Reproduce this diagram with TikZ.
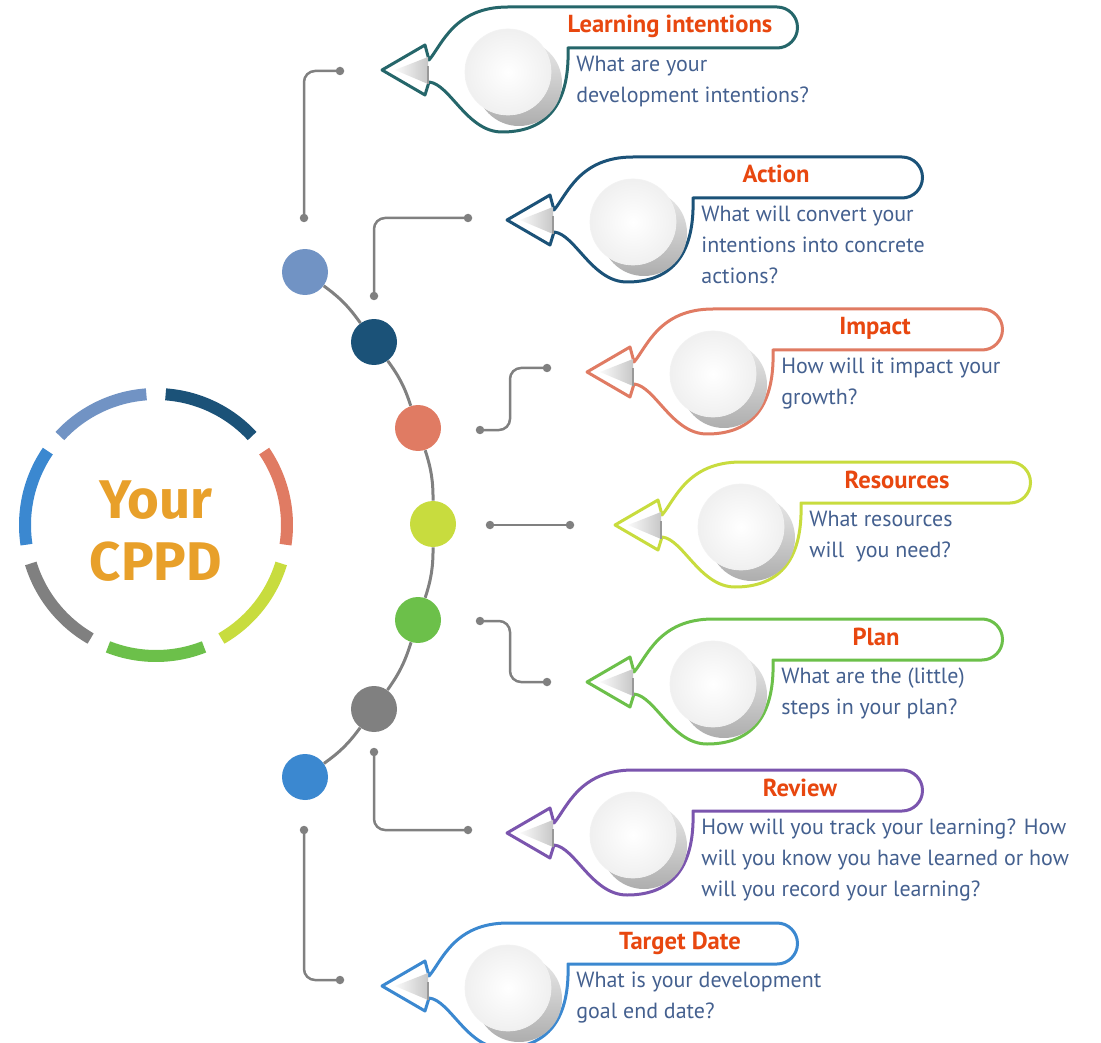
\documentclass[tikz,border=0pt]{standalone}
\usepackage{fontspec}
\setmainfont{PT Sans}
\newfontfamily\cppdfont{Fira Sans}
\usetikzlibrary{positioning}

\definecolor{learncol}{HTML}{25666A}
\definecolor{actioncol}{HTML}{1B5278}
\definecolor{impactcol}{HTML}{E07B63}
\definecolor{rescol}{HTML}{C8DC3E}
\definecolor{plancol}{HTML}{6CC04A}
\definecolor{reviewcol}{HTML}{7B55AE}
\definecolor{targetcol}{HTML}{3B88D0}
\definecolor{steelcol}{HTML}{7193C4}
\definecolor{greycol}{HTML}{808080}
\definecolor{headred}{HTML}{E8470F}
\definecolor{asktext}{HTML}{44608F}
\definecolor{cppdorange}{HTML}{E8A02A}

\tikzset{
    spot/.style={circle,minimum size=0.92cm,inner sep=0pt},
    enddot/.style={circle,fill=greycol,minimum size=0.17cm,inner sep=0pt},
    link/.style={draw=greycol,line width=0.05cm,rounded corners=0.22cm},
    spine/.style={draw=greycol,line width=0.06cm},
    heading/.style={font=\bfseries\fontsize{14}{16}\selectfont,text=headred,anchor=base,inner sep=0pt},
    question/.style={font=\fontsize{12.5}{17.6}\selectfont,text=asktext,align=left,anchor=north west,
        inner sep=0pt,execute at begin node=\strut},
}

%% #1 name, #2 #3 tip, #4 colour, #5 title offset, #6 title, #7 question
\newcommand{\bubble}[7]{%
    \begin{scope}[shift={(#2,#3)}]
        \coordinate (#1) at (0,0);
        \draw[#4,line width=0.06cm,fill=white,line join=round] (0,0) -- (43,-25) -- (47,-10)
            .. controls (60,-25) and (72,-63) .. (126,-63) -- (395,-63)
            arc[start angle=-90,end angle=90,radius=20.5] -- (186,-22)
            .. controls (188,40) and (160,62) .. (120,62)
            .. controls (85,62) and (68,14) .. (47,12) -- (43,25) -- cycle;
        %% disc with its shadow
        \shade[top color=black!8,bottom color=black!32] (137,13) circle[radius=43];
        \shade[inner color=white,outer color=black!6,draw=black!5] (126,2) circle[radius=43];
        %% small arrow inside the tip
        \shade[left color=black!2,right color=black!22] (13,0) -- (46,-13) -- (46,14) -- cycle;
        \draw[black!40,line width=0.05cm] (46,-4) -- (46,14);
        \node[heading] (#1-title) at (#5,-37) {#6};
        \node[question] (#1-text) at (194,-14) {#7};
    \end{scope}}

\begin{document}
\begin{tikzpicture}[x=0.02cm,y=-0.02cm]
    \useasboundingbox (0,0) rectangle (1101,1043);
    %% Callouts
    \bubble{learn}{382}{70}{learncol}{288}{Learning intentions}{What are your\\development intentions?}
    \bubble{action}{507}{220}{actioncol}{269}{Action}{What will convert your\\intentions into concrete\\actions?}
    \bubble{impact}{587}{372}{impactcol}{288}{Impact}{How will it impact your\\growth?}
    \bubble{res}{615}{525}{rescol}{282}{Resources}{What resources\\will\ \ you need?}
    \bubble{plan}{587}{682}{plancol}{289}{Plan}{What are the (little)\\steps in your plan?}
    \bubble{review}{507}{833}{reviewcol}{293}{Review}{How will you track your learning? How\\will you know you have learned or how\\will you record your learning?}
    \bubble{target}{382}{986}{targetcol}{298}{Target Date}{What is your development\\goal end date?}

    %% Links
    \node[enddot] (l1a) at (304,218) {};
    \node[enddot] (l1b) at (340,71) {};
    \draw[link] (l1a.center) |- (l1b.center);
    \node[enddot] (l2a) at (374,296) {};
    \node[enddot] (l2b) at (468,218) {};
    \draw[link] (l2a.center) |- (l2b.center);
    \node[enddot] (l3a) at (480,430) {};
    \node[enddot] (l3b) at (547,368) {};
    \draw[link] (l3a.center) -- ++(30,0) |- (l3b.center);
    \node[enddot] (l4a) at (490,525) {};
    \node[enddot] (l4b) at (570,525) {};
    \draw[link] (l4a.center) -- (l4b.center);
    \node[enddot] (l5a) at (480,621) {};
    \node[enddot] (l5b) at (547,682) {};
    \draw[link] (l5a.center) -- ++(30,0) |- (l5b.center);
    \node[enddot] (l6a) at (374,752) {};
    \node[enddot] (l6b) at (468,830) {};
    \draw[link] (l6a.center) |- (l6b.center);
    \node[enddot] (l7a) at (304,830) {};
    \node[enddot] (l7b) at (340,980) {};
    \draw[link] (l7a.center) |- (l7b.center);

    %% Spine
    \node[spot,fill=steelcol] (d1) at (305,272) {};
    \node[spot,fill=actioncol] (d2) at (374,342) {};
    \node[spot,fill=impactcol] (d3) at (418,428) {};
    \node[spot,fill=rescol] (d4) at (433,524) {};
    \node[spot,fill=plancol] (d5) at (418,620) {};
    \node[spot,fill=greycol] (d6) at (374,709) {};
    \node[spot,fill=targetcol] (d7) at (305,777) {};
    \foreach \i [remember=\i as \j (initially 1)] in {2,...,7}
        \draw[spine] (d\j) to[bend left=9] (d\i);

    %% Ring
    \coordinate (ring) at (156,525);
    \foreach \col [count=\k from 0] in {plancol,rescol,impactcol,actioncol,steelcol,targetcol,greycol}{
        \pgfmathsetmacro\mid{90-\k*360/7}
        \draw[\col,line width=0.24cm] (ring) ++(\mid-21.5:131) arc[start angle=\mid-21.5,end angle=\mid+21.5,radius=131];
    }
    \node[font=\cppdfont\bfseries\fontsize{31}{35}\selectfont,text=cppdorange,align=center] (cppd) at (156,531) {Your\\CPPD};
\end{tikzpicture}
\end{document}
